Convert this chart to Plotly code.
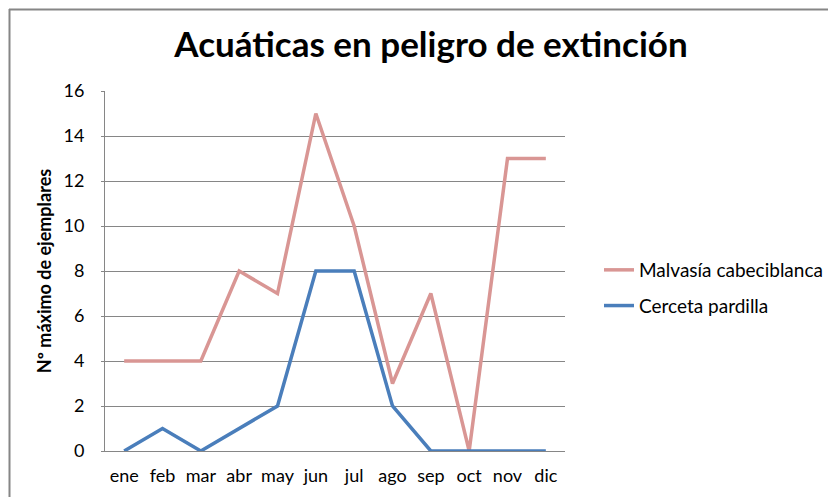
import plotly.graph_objects as go

meses = ["ene", "feb", "mar", "abr", "may", "jun", "jul", "ago", "sep", "oct", "nov", "dic"]
malvasia = [4, 4, 4, 8, 7, 15, 10, 3, 7, 0, 13, 13]
cerceta = [0, 1, 0, 1, 2, 8, 8, 2, 0, 0, 0, 0]
y_ticks = [0, 2, 4, 6, 8, 10, 12, 14, 16]

FONT = "Lato, 'Open Sans', sans-serif"
GRID = "#868686"

fig = go.Figure()
fig.add_trace(go.Scatter(x=meses, y=malvasia, mode="lines", name="Malvasía cabeciblanca",
                         line=dict(color="#D99694", width=3.5), legendgroup="a"))
fig.add_trace(go.Scatter(x=meses, y=cerceta, mode="lines", name="Cerceta pardilla",
                         line=dict(color="#4A7EBB", width=3.5), legendgroup="b"))

OFF = 8  # page body margin
W, H = 836, 497 - OFF
L, R, T, B = 105 - OFF, 836 - (565 - OFF), 91 - OFF, 46
pw, ph = W - L - R, H - T - B


def px_x(p):
    return (p - OFF - L) / pw


def px_y(p):
    return (H - B - (p - OFF)) / ph


fig.update_layout(
    width=W, height=H,
    margin=dict(l=L, r=R, t=T, b=B),
    paper_bgcolor="white", plot_bgcolor="white",
    font=dict(family=FONT, size=18, color="black"),
    title=dict(text="<b>Acuáticas en peligro de extinción</b>", x=px_x(431), xanchor="center",
               xref="paper", y=1 - (45 - OFF) / H, yanchor="middle", font=dict(size=35, family=FONT)),
    showlegend=True,
    legend=dict(x=px_x(599), y=px_y(251), xanchor="left", yanchor="top",
                font=dict(size=19, family=FONT), tracegroupgap=8, bgcolor="rgba(0,0,0,0)"),
    xaxis=dict(type="category", showgrid=False, showline=True, linecolor=GRID, linewidth=1,
               ticks="", tickfont=dict(size=18), range=[-0.5, 11.5], fixedrange=True,
               ticklabelstandoff=8),
    yaxis=dict(range=[0, 16], tickvals=y_ticks, showgrid=True, gridcolor=GRID, gridwidth=1,
               showline=True, linecolor=GRID, linewidth=1, ticks="outside", ticklen=3,
               tickcolor=GRID, tickfont=dict(size=18), zeroline=False, ticklabelstandoff=13,
               title=dict(text="<b>Nº máximo de ejemplares</b>", font=dict(size=18), standoff=7)),
    shapes=[
        dict(type="line", xref="paper", yref="paper", x0=px_x(9), x1=px_x(860), y0=px_y(9.5), y1=px_y(9.5),
             line=dict(color=GRID, width=2)),
        dict(type="line", xref="paper", yref="paper", x0=px_x(9.5), x1=px_x(9.5), y0=px_y(9), y1=px_y(510),
             line=dict(color=GRID, width=2)),
    ],
)

fig.write_html("out.html")
